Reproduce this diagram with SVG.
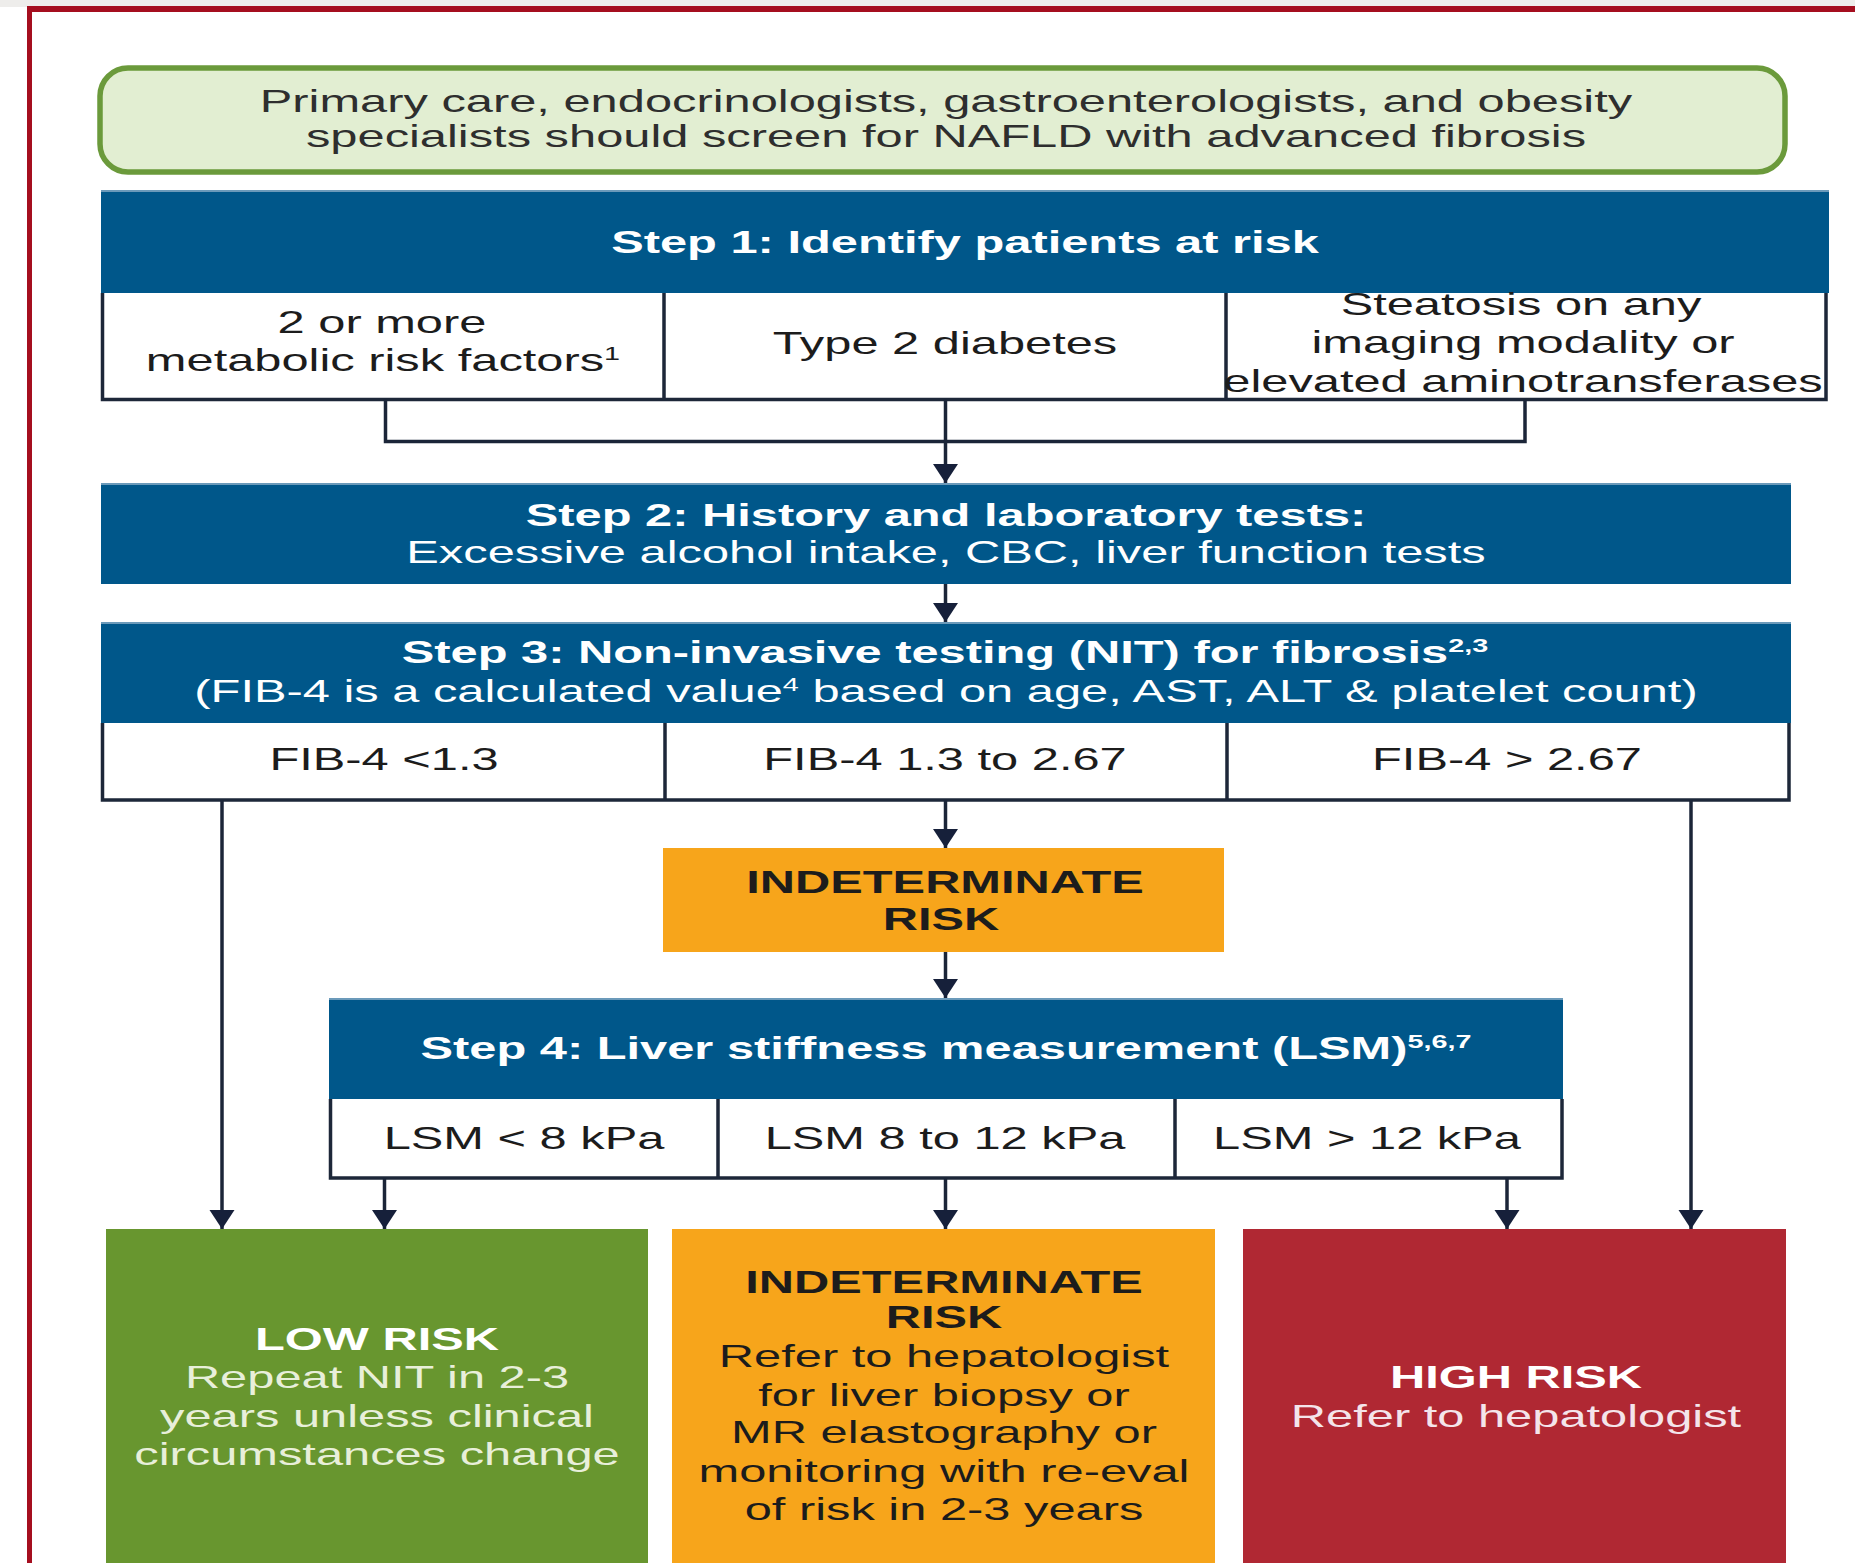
<svg xmlns="http://www.w3.org/2000/svg" width="1855" height="1563" viewBox="0 0 1855 1563">
  <defs>
    <style>
      .t { font-family: "Liberation Sans", Arial, Helvetica, sans-serif; font-size: 30.5px; text-anchor: middle; }
      .b { font-weight: bold; }
      .w { fill: #ffffff; }
      .k { fill: #1c1c1c; }
      .g { fill: #2e2e2e; }
      .sup { font-size: 18px; }
      .hdr { fill: #00578a; }
      .hdr-edge { fill: #6b9aba; }
      .cell { fill: #ffffff; }
      .rule { fill: none; stroke: #1d2739; stroke-width: 3.5; }
      .link { fill: none; stroke: #1b2538; stroke-width: 3.5; }
      .arrow { fill: none; stroke: #1b2538; stroke-width: 3.5; marker-end: url(#ah); }
    </style>
    <marker id="ah" markerUnits="userSpaceOnUse" viewBox="0 -13 19 26" refX="19" refY="0" markerWidth="19" markerHeight="26" orient="auto">
      <path d="M0,-12.5 L19,0 L0,12.5 z" fill="#16203a"/>
    </marker>
  </defs>

  <!-- page frame -->
  <rect x="0" y="0" width="1855" height="1563" fill="#ffffff"/>
  <rect x="0" y="0" width="1855" height="7" fill="#eeedeb"/>
  <rect x="27" y="6" width="1828" height="6" fill="#a50e1f"/>
  <rect x="27" y="6" width="5" height="1557" fill="#a50e1f"/>

  <!-- screening banner -->
  <g id="screening">
    <rect x="100" y="68" width="1685" height="104" rx="28" ry="28" fill="#e2eed2" stroke="#6b9a3b" stroke-width="5.5"/>
    <text class="t g" transform="translate(946 112) scale(1.6 1)">Primary care, endocrinologists, gastroenterologists, and obesity</text>
    <text class="t g" transform="translate(946 147) scale(1.6 1)">specialists should screen for NAFLD with advanced fibrosis</text>
  </g>

  <!-- step 1 -->
  <g id="step1">
    <rect class="hdr" x="101" y="190" width="1728" height="103"/>
    <rect class="hdr-edge" x="101" y="190" width="1728" height="2"/>
    <text class="t b w" transform="translate(965 253) scale(1.6 1)">Step 1: Identify patients at risk</text>
    <rect class="cell" x="102" y="293" width="1724" height="106"/>
    <path class="rule" d="M102.5 293 V399.5 H1826 V293 M664 293 V399.5 M1226 293 V399.5"/>
  </g>
  <g id="risk-metabolic">
    <text class="t k" transform="translate(382 333) scale(1.6 1)">2 or more</text>
    <text class="t k" transform="translate(383 371) scale(1.6 1)">metabolic risk factors<tspan class="sup" dy="-11">1</tspan></text>
  </g>
  <g id="risk-diabetes">
    <text class="t k" transform="translate(945 354) scale(1.6 1)">Type 2 diabetes</text>
  </g>
  <g id="risk-steatosis">
    <text class="t k" transform="translate(1521 315) scale(1.6 1)">Steatosis on any</text>
    <text class="t k" transform="translate(1523 353) scale(1.6 1)">imaging modality or</text>
    <text class="t k" transform="translate(1523 392) scale(1.6 1)">elevated aminotransferases</text>
  </g>

  <!-- step 2 -->
  <g id="step2">
    <rect class="hdr" x="101" y="483" width="1690" height="101"/>
    <rect class="hdr-edge" x="101" y="483" width="1690" height="2"/>
    <text class="t b w" transform="translate(946 526) scale(1.6 1)">Step 2: History and laboratory tests:</text>
    <text class="t w" transform="translate(946 563) scale(1.6 1)">Excessive alcohol intake, CBC, liver function tests</text>
  </g>

  <!-- step 3 -->
  <g id="step3">
    <rect class="hdr" x="101" y="622" width="1690" height="101"/>
    <rect class="hdr-edge" x="101" y="622" width="1690" height="2"/>
    <text class="t b w" transform="translate(945 663) scale(1.6 1)">Step 3: Non-invasive testing (NIT) for fibrosis<tspan class="sup" dy="-11">2,3</tspan></text>
    <text class="t w" transform="translate(946 702) scale(1.6 1)">(FIB-4 is a calculated value<tspan class="sup" dy="-11">4</tspan><tspan dy="11"> based on age, AST, ALT &amp; platelet count)</tspan></text>
    <rect class="cell" x="102" y="723" width="1687" height="77"/>
    <path class="rule" d="M102.5 723 V800 H1789 V723 M665 723 V800 M1227 723 V800"/>
  </g>
  <g id="fib-low">
    <text class="t k" transform="translate(384 770) scale(1.6 1)">FIB-4 &lt;1.3</text>
  </g>
  <g id="fib-mid">
    <text class="t k" transform="translate(945 770) scale(1.6 1)">FIB-4 1.3 to 2.67</text>
  </g>
  <g id="fib-high">
    <text class="t k" transform="translate(1507 770) scale(1.6 1)">FIB-4 &gt; 2.67</text>
  </g>

  <!-- intermediate result -->
  <g id="indeterminate-fib">
    <rect x="663" y="848" width="561" height="104" fill="#f7a51b"/>
    <text class="t b k" transform="translate(945 893) scale(1.6 1)">INDETERMINATE</text>
    <text class="t b k" transform="translate(941 930) scale(1.6 1)">RISK</text>
  </g>

  <!-- step 4 -->
  <g id="step4">
    <rect class="hdr" x="329" y="998" width="1234" height="101"/>
    <rect class="hdr-edge" x="329" y="998" width="1234" height="2"/>
    <text class="t b w" transform="translate(946 1059) scale(1.6 1)">Step 4: Liver stiffness measurement (LSM)<tspan class="sup" dy="-11">5,6,7</tspan></text>
    <rect class="cell" x="330" y="1099" width="1232" height="79"/>
    <path class="rule" d="M330.5 1099 V1178 H1562 V1099 M718 1099 V1178 M1175 1099 V1178"/>
  </g>
  <g id="lsm-low">
    <text class="t k" transform="translate(524 1149) scale(1.6 1)">LSM &lt; 8 kPa</text>
  </g>
  <g id="lsm-mid">
    <text class="t k" transform="translate(945 1149) scale(1.6 1)">LSM 8 to 12 kPa</text>
  </g>
  <g id="lsm-high">
    <text class="t k" transform="translate(1367 1149) scale(1.6 1)">LSM &gt; 12 kPa</text>
  </g>

  <!-- outcomes -->
  <g id="low-risk">
    <rect x="106" y="1229" width="542" height="334" fill="#68962f"/>
    <text class="t b w" transform="translate(377 1350) scale(1.6 1)">LOW RISK</text>
    <text class="t" fill="#e8efda" transform="translate(377 1388) scale(1.6 1)">Repeat NIT in 2-3</text>
    <text class="t" fill="#e8efda" transform="translate(377 1427) scale(1.6 1)">years unless clinical</text>
    <text class="t" fill="#e8efda" transform="translate(377 1465) scale(1.6 1)">circumstances change</text>
  </g>
  <g id="indeterminate-risk">
    <rect x="672" y="1229" width="543" height="334" fill="#f7a51b"/>
    <text class="t b k" transform="translate(944 1293) scale(1.6 1)">INDETERMINATE</text>
    <text class="t b k" transform="translate(944 1328) scale(1.6 1)">RISK</text>
    <text class="t k" transform="translate(944 1367) scale(1.6 1)">Refer to hepatologist</text>
    <text class="t k" transform="translate(944 1406) scale(1.6 1)">for liver biopsy or</text>
    <text class="t k" transform="translate(944 1443) scale(1.6 1)">MR elastography or</text>
    <text class="t k" transform="translate(944 1482) scale(1.6 1)">monitoring with re-eval</text>
    <text class="t k" transform="translate(944 1520) scale(1.6 1)">of risk in 2-3 years</text>
  </g>
  <g id="high-risk">
    <rect x="1243" y="1229" width="543" height="334" fill="#b02833"/>
    <text class="t b w" transform="translate(1516 1388) scale(1.6 1)">HIGH RISK</text>
    <text class="t" fill="#f4e4ea" transform="translate(1516 1427) scale(1.6 1)">Refer to hepatologist</text>
  </g>

  <!-- connectors -->
  <g id="connectors">
    <path class="link" d="M385.5 399.5 V441.5 H1525 V399.5"/>
    <path class="arrow" d="M945.5 399.5 V483"/>
    <path class="arrow" d="M945.5 584 V622"/>
    <path class="arrow" d="M222 800 V1229"/>
    <path class="arrow" d="M945.5 800 V848"/>
    <path class="arrow" d="M1691 800 V1229"/>
    <path class="arrow" d="M945.5 952 V998"/>
    <path class="arrow" d="M384.5 1178 V1229"/>
    <path class="arrow" d="M945.5 1178 V1229"/>
    <path class="arrow" d="M1507 1178 V1229"/>
  </g>
</svg>
